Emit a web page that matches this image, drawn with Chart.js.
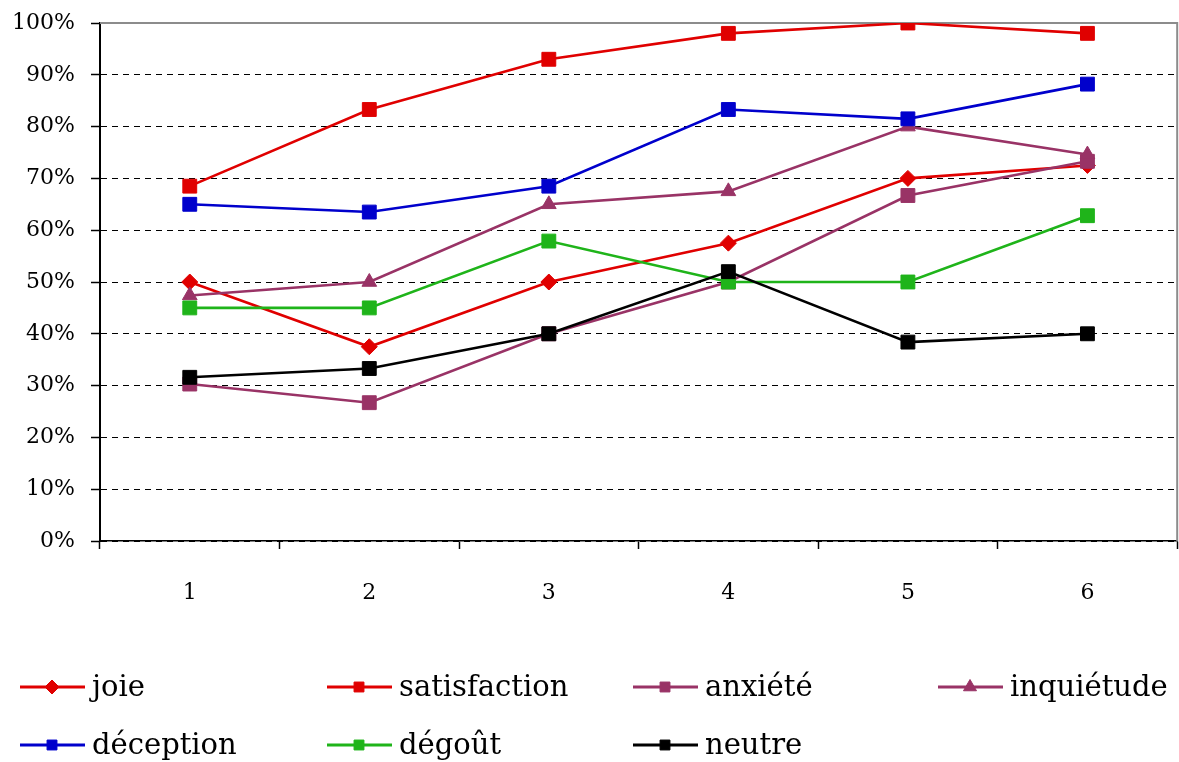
<!DOCTYPE html>
<html>
<head>
<meta charset="utf-8">
<script src="https://cdn.jsdelivr.net/npm/chart.js@4.4.0/dist/chart.umd.min.js"></script>
<style>
  html, body { margin: 0; padding: 0; background: #fff; overflow: hidden; }
  #wrap { width: 1179px; height: 762px; overflow: hidden; }
</style>
</head>
<body>
<div id="wrap"><canvas id="chart" width="1188" height="762"></canvas></div>
<script>
// categories (x axis)
const categories = ['1', '2', '3', '4', '5', '6'];

// series values, in percent
const joie         = [50, 37.5, 50, 57.5, 70, 72.5];
const satisfaction = [68.5, 83.3, 93, 98, 100, 98];
const anxiete      = [30.3, 26.7, 40, 50, 66.7, 73.3];
const inquietude   = [47.4, 50, 65, 67.5, 80, 74.6];
const deception    = [65, 63.5, 68.5, 83.3, 81.5, 88.2];
const degout       = [45, 45, 57.9, 50, 50, 62.8];
const neutre       = [31.6, 33.3, 40, 52, 38.4, 40];

const seriesNames = ['joie', 'satisfaction', 'anxiété', 'inquiétude', 'déception', 'dégoût', 'neutre'];
const seriesValues = [joie, satisfaction, anxiete, inquietude, deception, degout, neutre];
const seriesColors = ['#E00000', '#E00000', '#993366', '#993366', '#0000CC', '#1FB41A', '#000000'];
const seriesStyles = ['rectRot', 'rect', 'rect', 'triangle', 'rect', 'rect', 'rect'];

// y ticks 0% .. 100%
const yMin = 0, yMax = 100, yStep = 10;

const FONT = '"DejaVu Serif", serif';

const pointSize = { rect: 9.8, rectRot: 8, triangle: 8.5 };

const datasets = seriesNames.map((name, i) => ({
    label: name,
    data: seriesValues[i],
    borderColor: seriesColors[i],
    backgroundColor: seriesColors[i],
    borderWidth: 2.6,
    pointStyle: seriesStyles[i],
    pointRadius: pointSize[seriesStyles[i]],
    pointBorderWidth: 1,
    pointHoverRadius: pointSize[seriesStyles[i]],
    tension: 0,
    order: seriesNames.length - i
}));

// gray frame on top and right of the plot
const framePlugin = {
    id: 'frame',
    beforeDatasetsDraw(chart) {
        const { ctx, chartArea: a } = chart;
        ctx.save();
        ctx.strokeStyle = '#8c8c8c';
        ctx.lineWidth = 2;
        ctx.beginPath();
        ctx.moveTo(a.left, a.top);
        ctx.lineTo(a.right, a.top);
        ctx.lineTo(a.right, a.bottom);
        ctx.stroke();
        ctx.restore();
    }
};

// legend in a 4-column grid under the chart
const legendPlugin = {
    id: 'gridLegend',
    afterDraw(chart) {
        const ctx = chart.ctx;
        const colX = [20, 327, 633, 938];
        const rowY = [687, 745];
        const legendSize = { rect: 7, rectRot: 7, triangle: 7.5 };
        ctx.save();
        chart.data.datasets.forEach((ds, i) => {
            const x = colX[i % 4];
            const y = rowY[Math.floor(i / 4)];
            ctx.strokeStyle = ds.borderColor;
            ctx.lineWidth = 2.8;
            ctx.beginPath();
            ctx.moveTo(x, y);
            ctx.lineTo(x + 65, y);
            ctx.stroke();
            ctx.fillStyle = ds.backgroundColor;
            ctx.lineWidth = 1;
            Chart.helpers.drawPoint(ctx, {
                pointStyle: ds.pointStyle,
                radius: legendSize[ds.pointStyle],
                rotation: 0,
                borderWidth: 1
            }, x + 32, y);
            ctx.fillStyle = '#000';
            ctx.font = '29px ' + FONT;
            ctx.textBaseline = 'middle';
            ctx.textAlign = 'left';
            ctx.fillText(ds.label, x + 72, y + 1);
        });
        ctx.restore();
    }
};

const ctx = document.getElementById('chart').getContext('2d');

new Chart(ctx, {
    type: 'line',
    data: {
        labels: categories,
        datasets: datasets
    },
    options: {
        responsive: false,
        animation: false,
        events: [],
        layout: { padding: { left: 0, top: 23, right: 2, bottom: 0 } },
        plugins: {
            legend: { display: false },
            tooltip: { enabled: false }
        },
        scales: {
            x: {
                type: 'category',
                offset: true,
                grid: {
                    offset: true,
                    drawOnChartArea: false,
                    drawTicks: true,
                    tickLength: 8,
                    tickColor: '#000',
                    tickWidth: 1.5
                },
                border: { display: true, color: '#000', width: 1.5 },
                ticks: {
                    color: '#000',
                    font: { family: FONT, size: 22 },
                    padding: 31,
                    maxRotation: 0
                },
                afterFit(scale) {
                    scale.height = 221;
                    scale.paddingLeft = 0;
                    scale.paddingRight = 0;
                }
            },
            y: {
                min: yMin,
                max: yMax,
                ticks: {
                    stepSize: yStep,
                    color: '#000',
                    font: { family: FONT, size: 22 },
                    padding: 16,
                    callback: v => v + '%'
                },
                grid: {
                    color: c => (c.tick && c.tick.value === yMax) ? 'rgba(0,0,0,0)' : '#000',
                    lineWidth: 1,
                    drawTicks: true,
                    tickLength: 9,
                    tickColor: '#000',
                    tickWidth: 1.5,
                    tickBorderDash: []
                },
                border: { display: true, color: '#000', width: 2, dash: [6, 5] },
                afterFit(scale) {
                    scale.width = 100;
                    scale.paddingTop = 0;
                    scale.paddingBottom = 0;
                }
            }
        }
    },
    plugins: [framePlugin, legendPlugin]
});
</script>
</body>
</html>
